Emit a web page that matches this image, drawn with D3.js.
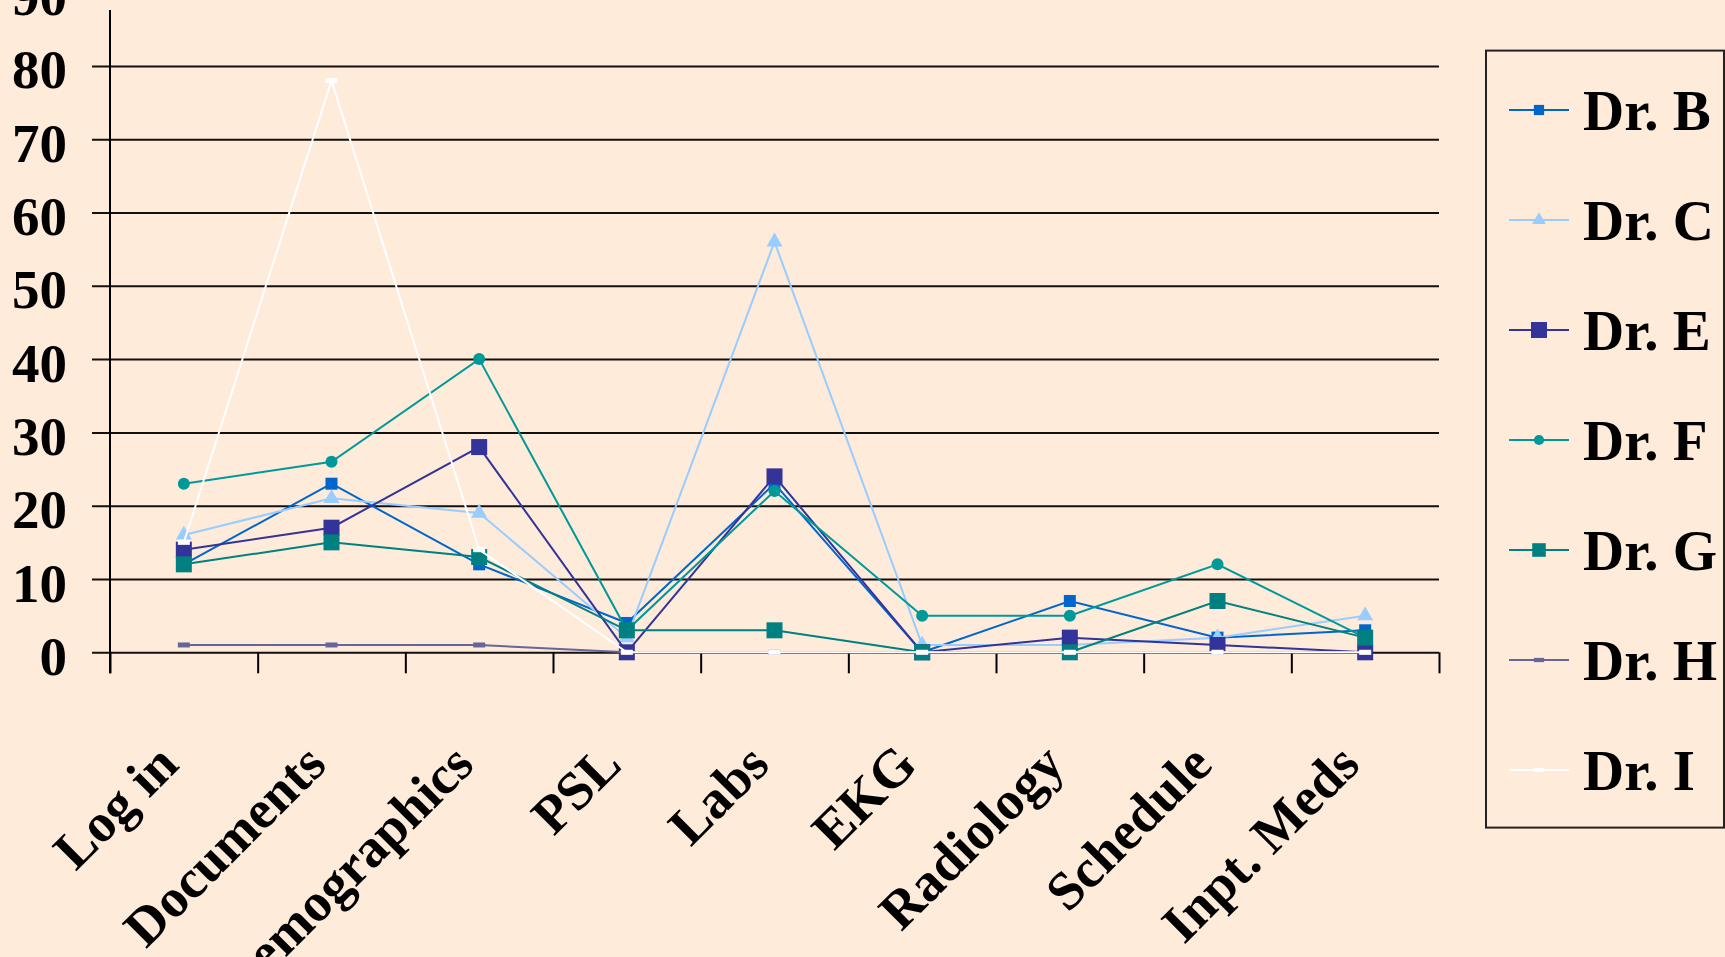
<!DOCTYPE html>
<html>
<head>
<meta charset="utf-8">
<script src="https://cdn.jsdelivr.net/npm/d3@7/dist/d3.min.js"></script>
<style>
  html, body { margin: 0; padding: 0; background: #FEEBDA; overflow: hidden; }
  svg { display: block; }
  text { font-family: "Liberation Serif", "Times New Roman", serif; font-weight: bold; fill: #000; }
</style>
</head>
<body>
<svg id="chart" width="1725" height="957"></svg>
<script>
// ---- data ----
const categories = ["Log in", "Documents", "Demographics", "PSL", "Labs", "EKG", "Radiology", "Schedule", "Inpt. Meds"];
const seriesNames = ["Dr. B", "Dr. C", "Dr. E", "Dr. F", "Dr. G", "Dr. H", "Dr. I"];
const drB = [12, 23, 12, 4, 23, 0, 7, 2, 3];
const drC = [16, 21, 19, 2, 56, 1, 1, 2, 5];
const drE = [14, 17, 28, 0, 24, 0, 2, 1, 0];
const drF = [23, 26, 40, 3, 22, 5, 5, 12, 2];
const drG = [12, 15, 13, 3, 3, 0, 0, 7, 2];
const drH = [1, 1, 1, 0, 0, 0, 0, 0, 0];
const drI = [15, 78, 14, 0, 0, 0, 0, 0, 0];
const yTicks = [0, 10, 20, 30, 40, 50, 60, 70, 80, 90];

const seriesValues = [drB, drC, drE, drF, drG, drH, drI];
const seriesColors = ["#0066CC", "#99CCFF", "#333399", "#009999", "#008080", "#666699", "#FFFFFF"];
const seriesMarkers = ["square", "triangle", "bigsquare", "circle", "bigsquare", "dash", "dash"];

// ---- layout ----
const svg = d3.select("#chart");
const plotLeft = 110, plotRight = 1439, plotBottom = 652.3, plotTop = -7.4;

const x = d3.scaleBand().domain(categories).range([plotLeft, plotRight]).padding(0);
const xb = d3.scaleLinear().domain([0, categories.length]).range([plotLeft, plotRight]);
const y = d3.scaleLinear().domain([0, 90]).range([plotBottom, plotTop]);

// gridlines + y labels via axis
const yAxis = d3.axisLeft(y).tickValues(yTicks).tickSizeInner(-(plotRight - plotLeft)).tickSizeOuter(0).tickPadding(0);
const gy = svg.append("g").attr("transform", `translate(${plotLeft},0)`).call(yAxis);
gy.select(".domain").remove();
gy.selectAll(".tick line")
  .attr("x1", -18).attr("x2", plotRight - plotLeft)
  .attr("stroke", "#111").attr("stroke-width", 2);
gy.selectAll(".tick text")
  .attr("x", -43).attr("dy", null).attr("y", 22)
  .attr("text-anchor", "end")
  .style("font-size", "55px")
  .style("font-family", "'Liberation Serif', serif")
  .style("font-weight", "bold")
  .attr("fill", "#000");

// y axis line
svg.append("line").attr("x1", plotLeft).attr("x2", plotLeft).attr("y1", 10).attr("y2", plotBottom + 21)
  .attr("stroke", "#000").attr("stroke-width", 2);

// x axis ticks
const xAxis = d3.axisBottom(xb).tickValues(d3.range(0, categories.length + 1)).tickFormat("").tickSizeInner(21).tickSizeOuter(0);
const gx = svg.append("g").attr("transform", `translate(0,${plotBottom})`).call(xAxis);
gx.select(".domain").remove();
gx.selectAll(".tick line").attr("stroke", "#000").attr("stroke-width", 2);

// category labels
svg.append("g").selectAll("text").data(categories).join("text")
  .attr("transform", d => `translate(${x(d) + x.bandwidth() / 2 - 3},${767}) rotate(-45)`)
  .attr("text-anchor", "end")
  .style("font-size", "54px")
  .text(d => d);

// series
const line = d3.line().x((d, i) => x(categories[i]) + x.bandwidth() / 2).y(d => y(d));

function drawMarker(g, type, color, cx, cy, scale) {
  const s = scale || 1;
  if (type === "square") {
    g.append("rect").attr("x", cx - 6 * s).attr("y", cy - 6 * s).attr("width", 12 * s).attr("height", 12 * s).attr("fill", color);
  } else if (type === "bigsquare") {
    g.append("rect").attr("x", cx - 8 * s).attr("y", cy - 8 * s).attr("width", 16 * s).attr("height", 16 * s).attr("fill", color);
  } else if (type === "triangle") {
    g.append("path").attr("d", d3.symbol().type(d3.symbolTriangle).size(110 * s * s)()).attr("transform", `translate(${cx},${cy})`).attr("fill", color);
  } else if (type === "circle") {
    g.append("circle").attr("cx", cx).attr("cy", cy).attr("r", 6 * s).attr("fill", color);
  } else if (type === "dash") {
    g.append("rect").attr("x", cx - 6 * s).attr("y", cy - 2.5 * s).attr("width", 12 * s).attr("height", 5 * s).attr("fill", color);
  }
}

seriesValues.forEach((vals, si) => {
  const g = svg.append("g");
  g.append("path").datum(vals).attr("d", line)
    .attr("fill", "none").attr("stroke", seriesColors[si]).attr("stroke-width", 2);
  vals.forEach((v, i) => {
    drawMarker(g, seriesMarkers[si], seriesColors[si], x(categories[i]) + x.bandwidth() / 2, y(v), 1);
  });
});

// legend
const lg = svg.append("g");
lg.append("rect").attr("x", 1486).attr("y", 50.6).attr("width", 238).attr("height", 777)
  .attr("fill", "none").attr("stroke", "#222").attr("stroke-width", 2);
seriesNames.forEach((name, i) => {
  const cy = 110 + 110 * i;
  lg.append("line").attr("x1", 1509).attr("x2", 1569).attr("y1", cy).attr("y2", cy)
    .attr("stroke", seriesColors[i]).attr("stroke-width", 2);
  drawMarker(lg, seriesMarkers[i], seriesColors[i], 1539, cy, i === 2 ? 1 : 0.85);
  lg.append("text").attr("x", 1583).attr("y", cy + 20).style("font-size", "57px").text(name);
});
</script>
</body>
</html>
